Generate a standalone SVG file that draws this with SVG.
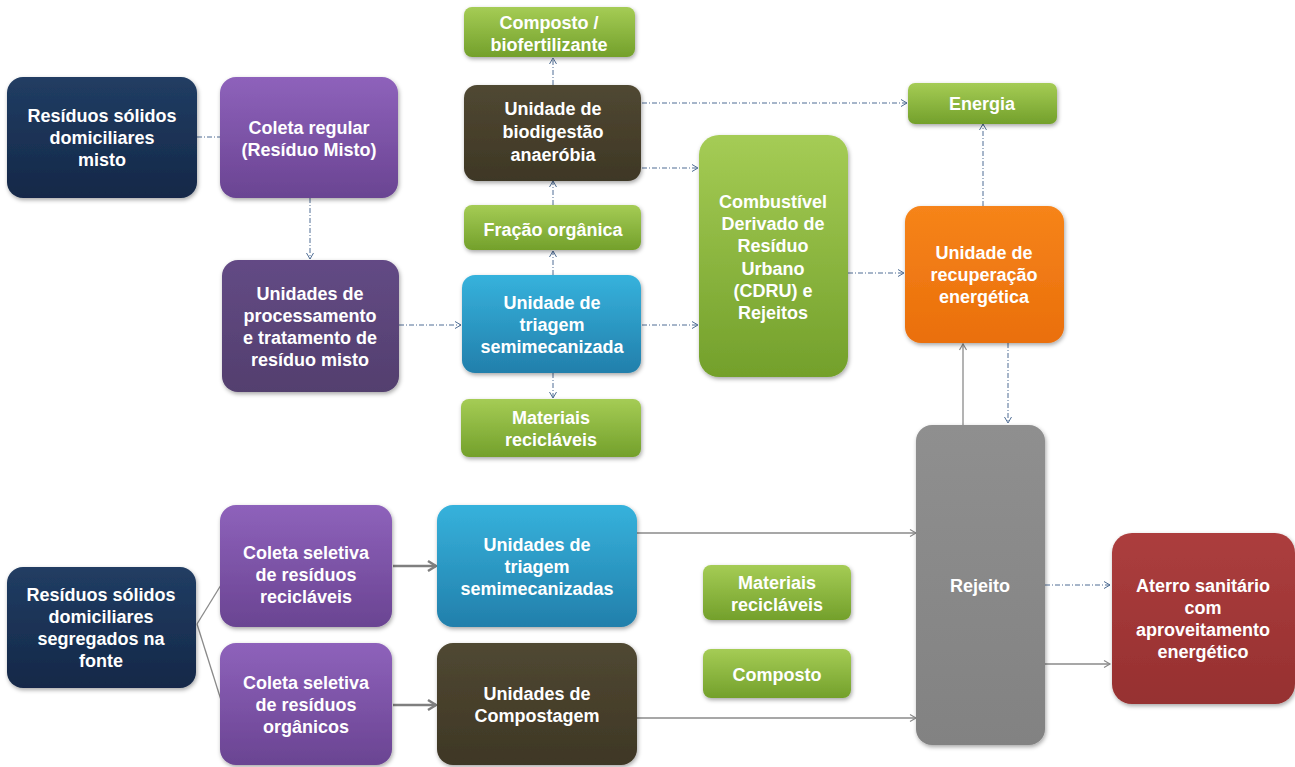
<svg xmlns="http://www.w3.org/2000/svg" width="1295" height="767" viewBox="0 0 1295 767">
<defs>
<linearGradient id="gNavy" x1="0" y1="0" x2="0" y2="1"><stop offset="0" stop-color="#213d63"/><stop offset="1" stop-color="#142848"/></linearGradient>
<linearGradient id="gPurple" x1="0" y1="0" x2="0" y2="1"><stop offset="0" stop-color="#8e62bb"/><stop offset="1" stop-color="#6a4492"/></linearGradient>
<linearGradient id="gPurpleD" x1="0" y1="0" x2="0" y2="1"><stop offset="0" stop-color="#634a85"/><stop offset="1" stop-color="#533f6e"/></linearGradient>
<linearGradient id="gGreen" x1="0" y1="0" x2="0" y2="1"><stop offset="0" stop-color="#a5cc55"/><stop offset="1" stop-color="#73a02b"/></linearGradient>
<linearGradient id="gBlue" x1="0" y1="0" x2="0" y2="1"><stop offset="0" stop-color="#36b2dc"/><stop offset="1" stop-color="#227fab"/></linearGradient>
<linearGradient id="gOlive" x1="0" y1="0" x2="0" y2="1"><stop offset="0" stop-color="#504832"/><stop offset="1" stop-color="#3e3725"/></linearGradient>
<linearGradient id="gOrange" x1="0" y1="0" x2="0" y2="1"><stop offset="0" stop-color="#f6841a"/><stop offset="1" stop-color="#ea6f0b"/></linearGradient>
<linearGradient id="gGray" x1="0" y1="0" x2="0" y2="1"><stop offset="0" stop-color="#8f8f8f"/><stop offset="1" stop-color="#828282"/></linearGradient>
<linearGradient id="gRed" x1="0" y1="0" x2="0" y2="1"><stop offset="0" stop-color="#ac3e3e"/><stop offset="1" stop-color="#963030"/></linearGradient>
<filter id="sh" x="-10%" y="-10%" width="125%" height="125%"><feDropShadow dx="1" dy="2" stdDeviation="2" flood-color="#000" flood-opacity="0.35"/></filter>
<marker id="aD" markerUnits="userSpaceOnUse" markerWidth="10" markerHeight="10" refX="8" refY="5" orient="auto"><path d="M2,1.5 L8,5 L2,8.5" fill="none" stroke="#4f6d94" stroke-width="1"/></marker>
<marker id="aS" markerUnits="userSpaceOnUse" markerWidth="10" markerHeight="10" refX="8" refY="5" orient="auto"><path d="M2,1.5 L8,5 L2,8.5" fill="none" stroke="#8a8a8a" stroke-width="1.2"/></marker>
<marker id="aT" markerUnits="userSpaceOnUse" markerWidth="14" markerHeight="14" refX="11" refY="7" orient="auto"><path d="M3,2 L11,7 L3,12" fill="none" stroke="#7f7f7f" stroke-width="2.5"/></marker>
</defs>
<style>
.t{font-family:"Liberation Sans",Arial,sans-serif;font-weight:bold;font-size:18px;fill:#ffffff;text-anchor:middle}
.dd{fill:none;stroke:#4f6d94;stroke-width:1;stroke-dasharray:5 2 1 2}
.sl{fill:none;stroke:#8a8a8a;stroke-width:1.3}
.tk{fill:none;stroke:#7f7f7f;stroke-width:2.5}
rect{filter:url(#sh)}
</style>
<rect width="1295" height="767" fill="#ffffff" style="filter:none"/>

<g id="connectors">
<path class="dd" d="M197,137 H220"/>
<path class="dd" d="M310,198 V259" marker-end="url(#aD)"/>
<path class="dd" d="M399,325 H461" marker-end="url(#aD)"/>
<path class="dd" d="M553,275 V251" marker-end="url(#aD)"/>
<path class="dd" d="M553,205 V181" marker-end="url(#aD)"/>
<path class="dd" d="M553,85 V58" marker-end="url(#aD)"/>
<path class="dd" d="M642,103 H907" marker-end="url(#aD)"/>
<path class="dd" d="M642,168 H698" marker-end="url(#aD)"/>
<path class="dd" d="M642,325 H698" marker-end="url(#aD)"/>
<path class="dd" d="M553,373 V398" marker-end="url(#aD)"/>
<path class="dd" d="M848,273 H904" marker-end="url(#aD)"/>
<path class="dd" d="M983,206 V124" marker-end="url(#aD)"/>
<path class="dd" d="M1008,343 V423" marker-end="url(#aD)"/>
<path class="dd" d="M1045,585 H1110" marker-end="url(#aD)"/>
<path class="sl" d="M963,425 V344" marker-end="url(#aS)"/>
<path class="sl" d="M637,533 H916" marker-end="url(#aS)"/>
<path class="sl" d="M637,718 H916" marker-end="url(#aS)"/>
<path class="sl" d="M1030,664 H1110" marker-end="url(#aS)"/>
<path class="sl" d="M197,624 L221,585"/>
<path class="sl" d="M197,624 L221,700"/>
<path class="tk" d="M393,566 H436" marker-end="url(#aT)"/>
<path class="tk" d="M393,705 H436" marker-end="url(#aT)"/>
</g>

<g id="n1"><rect x="7" y="77" width="190" height="121" rx="16" fill="url(#gNavy)"/>
<text class="t" x="102" y="122">Resíduos sólidos</text><text class="t" x="102" y="144">domiciliares</text><text class="t" x="102" y="166">misto</text></g>

<g id="n2"><rect x="220" y="77" width="178" height="121" rx="16" fill="url(#gPurple)"/>
<text class="t" x="309" y="134">Coleta regular</text><text class="t" x="309" y="156">(Resíduo Misto)</text></g>

<g id="n3"><rect x="222" y="260" width="177" height="132" rx="16" fill="url(#gPurpleD)"/>
<text class="t" x="310" y="300">Unidades de</text><text class="t" x="310" y="322">processamento</text><text class="t" x="310" y="344">e tratamento de</text><text class="t" x="310" y="366">resíduo misto</text></g>

<g id="n4"><rect x="464" y="7" width="171" height="50" rx="8" fill="url(#gGreen)"/>
<text class="t" x="549" y="29">Composto /</text><text class="t" x="549" y="51">biofertilizante</text></g>

<g id="n5"><rect x="464" y="85" width="177" height="96" rx="13" fill="url(#gOlive)"/>
<text class="t" x="553" y="115">Unidade de</text><text class="t" x="553" y="138">biodigestão</text><text class="t" x="553" y="161">anaeróbia</text></g>

<g id="n6"><rect x="464" y="205" width="177" height="45" rx="8" fill="url(#gGreen)"/>
<text class="t" x="553" y="236">Fração orgânica</text></g>

<g id="n7"><rect x="462" y="275" width="179" height="98" rx="13" fill="url(#gBlue)"/>
<text class="t" x="552" y="309">Unidade de</text><text class="t" x="552" y="331">triagem</text><text class="t" x="552" y="353">semimecanizada</text></g>

<g id="n8"><rect x="461" y="399" width="180" height="58" rx="8" fill="url(#gGreen)"/>
<text class="t" x="551" y="424">Materiais</text><text class="t" x="551" y="446">recicláveis</text></g>

<g id="n9"><rect x="699" y="135" width="149" height="242" rx="20" fill="url(#gGreen)"/>
<text class="t" x="773" y="208">Combustível</text><text class="t" x="773" y="230">Derivado de</text><text class="t" x="773" y="252">Resíduo</text><text class="t" x="773" y="275">Urbano</text><text class="t" x="773" y="297">(CDRU) e</text><text class="t" x="773" y="319">Rejeitos</text></g>

<g id="n10"><rect x="908" y="83" width="149" height="41" rx="7" fill="url(#gGreen)"/>
<text class="t" x="982" y="110">Energia</text></g>

<g id="n11"><rect x="905" y="206" width="159" height="137" rx="16" fill="url(#gOrange)"/>
<text class="t" x="984" y="259">Unidade de</text><text class="t" x="984" y="281">recuperação</text><text class="t" x="984" y="303">energética</text></g>

<g id="n12"><rect x="916" y="425" width="129" height="320" rx="16" fill="url(#gGray)"/>
<text class="t" x="980" y="592">Rejeito</text></g>

<g id="n13"><rect x="1112" y="533" width="183" height="171" rx="20" fill="url(#gRed)"/>
<text class="t" x="1203" y="592">Aterro sanitário</text><text class="t" x="1203" y="614">com</text><text class="t" x="1203" y="636">aproveitamento</text><text class="t" x="1203" y="658">energético</text></g>

<g id="n14"><rect x="7" y="567" width="189" height="121" rx="16" fill="url(#gNavy)"/>
<text class="t" x="101" y="601">Resíduos sólidos</text><text class="t" x="101" y="623">domiciliares</text><text class="t" x="101" y="645">segregados na</text><text class="t" x="101" y="667">fonte</text></g>

<g id="n15"><rect x="220" y="505" width="172" height="122" rx="16" fill="url(#gPurple)"/>
<text class="t" x="306" y="559">Coleta seletiva</text><text class="t" x="306" y="581">de resíduos</text><text class="t" x="306" y="603">recicláveis</text></g>

<g id="n16"><rect x="220" y="643" width="172" height="122" rx="16" fill="url(#gPurple)"/>
<text class="t" x="306" y="689">Coleta seletiva</text><text class="t" x="306" y="711">de resíduos</text><text class="t" x="306" y="733">orgânicos</text></g>

<g id="n17"><rect x="437" y="505" width="200" height="122" rx="16" fill="url(#gBlue)"/>
<text class="t" x="537" y="551">Unidades de</text><text class="t" x="537" y="573">triagem</text><text class="t" x="537" y="595">semimecanizadas</text></g>

<g id="n18"><rect x="437" y="643" width="200" height="122" rx="16" fill="url(#gOlive)"/>
<text class="t" x="537" y="700">Unidades de</text><text class="t" x="537" y="722">Compostagem</text></g>

<g id="n19"><rect x="703" y="565" width="148" height="55" rx="8" fill="url(#gGreen)"/>
<text class="t" x="777" y="589">Materiais</text><text class="t" x="777" y="611">recicláveis</text></g>

<g id="n20"><rect x="703" y="649" width="148" height="49" rx="8" fill="url(#gGreen)"/>
<text class="t" x="777" y="681">Composto</text></g>
</svg>
